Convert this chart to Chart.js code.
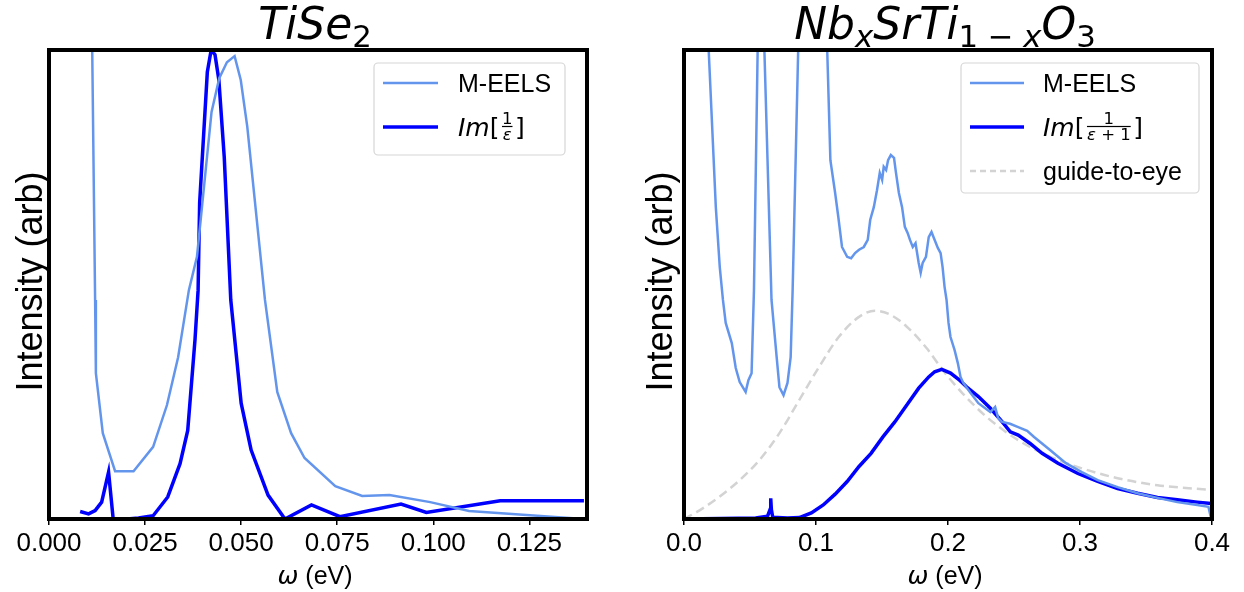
<!DOCTYPE html>
<html>
<head>
<meta charset="utf-8">
<script src="https://cdn.jsdelivr.net/npm/chart.js@4/dist/chart.umd.min.js"></script>
<style>
  body { margin: 0; background: #fff; }
  .panel { position: absolute; top: 0; width: 622px; height: 592px; }
</style>
</head>
<body>
<div class="panel" style="left:0"><canvas id="tise2"></canvas></div>
<div class="panel" style="left:622px"><canvas id="nbsto"></canvas></div>
<script>
// TiSe2: M-EELS spectrum and loss function Im[1/eps]
const tiseEelsX = [0.0104, 0.0120, 0.0122, 0.0140, 0.0172, 0.0220, 0.0271, 0.0307, 0.0336, 0.0364, 0.0385, 0.0423, 0.0443, 0.0463, 0.0483, 0.0499, 0.0516, 0.0562, 0.0594, 0.0630, 0.0665, 0.0745, 0.0815, 0.0886, 0.0992, 0.1093, 0.1392];
const tiseEelsY = [1.60, 0.467, 0.311, 0.183, 0.102, 0.102, 0.154, 0.243, 0.345, 0.488, 0.559, 0.868, 0.940, 0.974, 0.987, 0.936, 0.836, 0.467, 0.271, 0.183, 0.130, 0.070, 0.049, 0.051, 0.036, 0.017, 0.0];
const tiseLossX = [0.0081, 0.0103, 0.0120, 0.0137, 0.0155, 0.0167, 0.0203, 0.0233, 0.0271, 0.0309, 0.0341, 0.0361, 0.0380, 0.0388, 0.0392, 0.0412, 0.0422, 0.0432, 0.0442, 0.0456, 0.0473, 0.0500, 0.0526, 0.0570, 0.0614, 0.0683, 0.0757, 0.0916, 0.0982, 0.1174, 0.1392];
const tiseLossY = [0.016, 0.011, 0.018, 0.036, 0.100, 0.0, 0.0, 0.002, 0.007, 0.047, 0.118, 0.189, 0.383, 0.488, 0.674, 0.953, 1.0, 0.99, 0.936, 0.772, 0.467, 0.247, 0.147, 0.051, 0.0, 0.030, 0.005, 0.032, 0.014, 0.039, 0.039];
const tiseTicks = [0, 0.025, 0.05, 0.075, 0.1, 0.125];

// Nb-doped SrTiO3: M-EELS, Im[1/(eps+1)] and a guide curve
const nbEelsX = [0.0170, 0.0187, 0.0241, 0.0271, 0.0295, 0.0316, 0.0362, 0.0392, 0.0422, 0.0467, 0.0488, 0.0512, 0.0530, 0.0558, 0.0585, 0.0609, 0.0663, 0.0702, 0.0723, 0.0754, 0.0784, 0.0808, 0.0823, 0.0865, 0.0970, 0.1085, 0.1109, 0.1145, 0.1169, 0.1197, 0.1236, 0.1266, 0.1296, 0.1326, 0.1362, 0.1392, 0.1411, 0.1438, 0.1462, 0.1483, 0.1501, 0.1513, 0.1531, 0.1546, 0.1567, 0.1591, 0.1606, 0.1628, 0.1652, 0.1673, 0.1694, 0.1712, 0.1733, 0.1754, 0.1778, 0.1793, 0.1808, 0.1833, 0.1854, 0.1875, 0.1899, 0.1923, 0.1944, 0.1959, 0.1974, 0.1989, 0.2004, 0.2019, 0.2050, 0.2074, 0.2095, 0.2116, 0.2170, 0.2230, 0.2321, 0.2357, 0.2380, 0.2411, 0.2470, 0.2532, 0.2600, 0.2652, 0.2773, 0.2893, 0.3014, 0.3134, 0.3285, 0.3436, 0.3587, 0.3737, 0.3888, 0.3973, 0.3994];
const nbEelsY = [1.30, 1.00, 0.665, 0.537, 0.467, 0.418, 0.375, 0.322, 0.292, 0.271, 0.296, 0.311, 0.488, 1.00, 1.50, 1.00, 0.467, 0.345, 0.281, 0.264, 0.290, 0.345, 0.488, 1.00, 1.60, 1.00, 0.765, 0.695, 0.644, 0.580, 0.559, 0.556, 0.567, 0.574, 0.580, 0.595, 0.638, 0.665, 0.701, 0.738, 0.723, 0.751, 0.744, 0.765, 0.776, 0.770, 0.738, 0.695, 0.665, 0.623, 0.610, 0.595, 0.580, 0.588, 0.546, 0.525, 0.546, 0.559, 0.601, 0.612, 0.595, 0.578, 0.567, 0.537, 0.495, 0.467, 0.418, 0.388, 0.360, 0.333, 0.303, 0.290, 0.269, 0.247, 0.228, 0.239, 0.215, 0.207, 0.203, 0.196, 0.188, 0.175, 0.147, 0.119, 0.100, 0.083, 0.068, 0.055, 0.045, 0.036, 0.030, 0.026, 0.0];
const nbLossX = [0.0, 0.0543, 0.0633, 0.0652, 0.0657, 0.0662, 0.0672, 0.0784, 0.0874, 0.0965, 0.1055, 0.1145, 0.1236, 0.1326, 0.1417, 0.1507, 0.1597, 0.1688, 0.1778, 0.1854, 0.1899, 0.1953, 0.2019, 0.2080, 0.2140, 0.2230, 0.2321, 0.2411, 0.2472, 0.2532, 0.2622, 0.2713, 0.2833, 0.2984, 0.3134, 0.3285, 0.3436, 0.3587, 0.3737, 0.3888, 0.3994];
const nbLossY = [0.0, 0.002, 0.006, 0.020, 0.044, 0.020, 0.004, 0.002, 0.003, 0.013, 0.030, 0.053, 0.080, 0.112, 0.140, 0.175, 0.207, 0.243, 0.279, 0.303, 0.314, 0.319, 0.311, 0.298, 0.282, 0.261, 0.236, 0.207, 0.186, 0.179, 0.161, 0.140, 0.119, 0.097, 0.080, 0.065, 0.055, 0.046, 0.041, 0.036, 0.033];
const nbGuideX = [0.0, 0.0121, 0.0271, 0.0422, 0.0573, 0.0723, 0.0874, 0.1025, 0.1175, 0.1326, 0.1447, 0.1567, 0.1688, 0.1839, 0.1959, 0.2110, 0.2291, 0.2532, 0.2773, 0.3014, 0.3285, 0.3587, 0.4];
const nbGuideY = [0.0, 0.019, 0.048, 0.083, 0.126, 0.183, 0.254, 0.325, 0.389, 0.431, 0.444, 0.435, 0.410, 0.364, 0.318, 0.268, 0.218, 0.168, 0.133, 0.108, 0.087, 0.072, 0.062];
const nbTicks = [0, 0.1, 0.2, 0.3, 0.4];

const SANS = "'Liberation Sans', Arial, sans-serif";
const MATH = "'DejaVu Sans', sans-serif";
const EELS_COLOR = '#6495ed';
const LOSS_COLOR = '#0000ff';
const GUIDE_COLOR = '#d3d3d3';

function zip(xs, ys) {
  return xs.map((x, i) => ({ x: x, y: ys[i] }));
}

// --- small rich-text helper: italics, subscripts and stacked fractions ---
function runFont(r, size) {
  const s = r.sub ? size * 0.7 : size;
  return (r.it ? 'italic ' : '') + s + 'px ' + (r.math ? MATH : SANS);
}
function runWidth(ctx, r, size) {
  if (r.num) {
    const fs = size * 0.66;
    return Math.max(runsWidth(ctx, r.num, fs), runsWidth(ctx, r.den, fs)) + size * 0.2;
  }
  ctx.font = runFont(r, size);
  return ctx.measureText(r.t).width;
}
function runsWidth(ctx, runs, size) {
  return runs.reduce((w, r) => w + runWidth(ctx, r, size), 0);
}
function drawRuns(ctx, runs, x, y, size, align) {
  let cx = align === 'center' ? x - runsWidth(ctx, runs, size) / 2 : x;
  for (const r of runs) {
    const w = runWidth(ctx, r, size);
    ctx.textAlign = 'left';
    ctx.textBaseline = 'alphabetic';
    if (r.num) {
      const fs = size * 0.66;
      const mid = y - size * 0.38;
      drawRuns(ctx, r.num, cx + w / 2, mid - fs * 0.15, fs, 'center');
      drawRuns(ctx, r.den, cx + w / 2, mid + fs * 0.82, fs, 'center');
      ctx.fillRect(cx + size * 0.1, mid - 0.6, w - size * 0.2, 1.2);
    } else {
      ctx.font = runFont(r, size);
      ctx.fillText(r.t, cx, r.sub ? y + size * 0.18 : y);
    }
    cx += w;
  }
}

// frame, titles and legend drawn on top of the chart
const decor = {
  id: 'decor',
  afterDatasetsDraw(chart, args, opts) {
    const ctx = chart.ctx;
    const a = chart.chartArea;
    ctx.save();

    // legend
    const b = opts.legendBox;
    ctx.beginPath();
    ctx.roundRect(b.x, b.y, b.w, b.h, 4);
    ctx.fillStyle = 'rgba(255,255,255,0.8)';
    ctx.fill();
    ctx.strokeStyle = '#d6d6d6';
    ctx.lineWidth = 1.2;
    ctx.stroke();
    opts.entries.forEach((e, i) => {
      const ly = b.y + 20 + i * b.step;
      ctx.beginPath();
      ctx.strokeStyle = e.color;
      ctx.lineWidth = e.width;
      ctx.setLineDash(e.dash || []);
      ctx.moveTo(b.x + b.lineX0, ly);
      ctx.lineTo(b.x + b.lineX1, ly);
      ctx.stroke();
      ctx.setLineDash([]);
      ctx.fillStyle = '#000';
      drawRuns(ctx, e.runs, b.x + b.textX, ly + 9, 25, 'left');
    });

    // axes frame
    ctx.strokeStyle = '#000';
    ctx.lineWidth = 4;
    ctx.strokeRect(a.left, a.top, a.right - a.left, a.bottom - a.top);

    // title
    ctx.fillStyle = '#000';
    drawRuns(ctx, opts.title, (a.left + a.right) / 2 - 3, 39, 44, 'center');

    // x title
    drawRuns(ctx, [{ t: 'ω', it: true, math: true }, { t: ' (eV)' }], (a.left + a.right) / 2 - 3, 584, 25, 'center');

    // y title
    ctx.translate(opts.yTitleX, (a.top + a.bottom) / 2 - 3);
    ctx.rotate(-Math.PI / 2);
    ctx.font = '36px ' + SANS;
    ctx.textAlign = 'center';
    ctx.textBaseline = 'alphabetic';
    ctx.fillText('Intensity (arb)', 0, 0);
    ctx.restore();
  }
};

function lineSet(label, data, color, width, dash) {
  return {
    label: label,
    data: data,
    borderColor: color,
    borderWidth: width,
    borderDash: dash || [],
    pointRadius: 0,
    tension: 0,
    fill: false
  };
}

function makeChart(id, cfg) {
  return new Chart(document.getElementById(id), {
    type: 'line',
    data: { datasets: cfg.datasets },
    plugins: [decor],
    options: {
      responsive: true,
      maintainAspectRatio: false,
      animation: false,
      layout: { padding: cfg.padding },
      plugins: {
        legend: { display: false },
        tooltip: { enabled: false },
        decor: cfg.decor
      },
      scales: {
        x: {
          type: 'linear',
          min: cfg.xMin,
          max: cfg.xMax,
          border: { display: false },
          grid: { drawOnChartArea: false, drawTicks: true, tickLength: 6, color: '#000', lineWidth: 1.5 },
          afterBuildTicks: (scale) => { scale.ticks = cfg.ticks.map(v => ({ value: v })); },
          afterFit: (scale) => { scale.height = 73; },
          ticks: {
            color: '#000',
            padding: 3,
            maxRotation: 0,
            font: { family: SANS, size: 26 },
            callback: (v) => v.toFixed(cfg.digits)
          }
        },
        y: { display: false, min: 0, max: 1 }
      }
    }
  });
}

makeChart('tise2', {
  xMin: 0, xMax: 0.14, ticks: tiseTicks, digits: 3,
  padding: { top: 50, left: 49, right: 35, bottom: 0 },
  datasets: [
    lineSet('M-EELS', zip(tiseEelsX, tiseEelsY), EELS_COLOR, 2.5),
    lineSet('Im[1/ε]', zip(tiseLossX, tiseLossY), LOSS_COLOR, 3.5)
  ],
  decor: {
    yTitleX: 42,
    title: [{ t: 'TiSe', it: true, math: true }, { t: '2', sub: true, math: true }],
    legendBox: { x: 374, y: 63, w: 191, h: 92, step: 44, lineX0: 9, lineX1: 64, textX: 84 },
    entries: [
      { color: EELS_COLOR, width: 2.5, runs: [{ t: 'M-EELS' }] },
      { color: LOSS_COLOR, width: 3.5, runs: [{ t: 'Im', it: true, math: true }, { t: '[', math: true }, { num: [{ t: '1', math: true }], den: [{ t: 'ε', it: true, math: true }] }, { t: ']', math: true }] }
    ]
  }
});

makeChart('nbsto', {
  xMin: 0, xMax: 0.4, ticks: nbTicks, digits: 1,
  padding: { top: 50, left: 62, right: 32, bottom: 0 },
  datasets: [
    lineSet('M-EELS', zip(nbEelsX, nbEelsY), EELS_COLOR, 2.5),
    lineSet('Im[1/(ε+1)]', zip(nbLossX, nbLossY), LOSS_COLOR, 3.5),
    Object.assign(lineSet('guide-to-eye', zip(nbGuideX, nbGuideY), GUIDE_COLOR, 2.5, [9, 5]), { tension: 0.4, cubicInterpolationMode: 'monotone' })
  ],
  decor: {
    yTitleX: 50,
    title: [
      { t: 'Nb', it: true, math: true }, { t: 'x', it: true, sub: true, math: true },
      { t: 'SrTi', it: true, math: true }, { t: '1 − ', sub: true, math: true }, { t: 'x', it: true, sub: true, math: true },
      { t: 'O', it: true, math: true }, { t: '3', sub: true, math: true }
    ],
    legendBox: { x: 339, y: 63, w: 238, h: 130, step: 44, lineX0: 9, lineX1: 63, textX: 82 },
    entries: [
      { color: EELS_COLOR, width: 2.5, runs: [{ t: 'M-EELS' }] },
      { color: LOSS_COLOR, width: 3.5, runs: [{ t: 'Im', it: true, math: true }, { t: '[', math: true }, { num: [{ t: '1', math: true }], den: [{ t: 'ε', it: true, math: true }, { t: ' + 1', math: true }] }, { t: ']', math: true }] },
      { color: GUIDE_COLOR, width: 2.5, dash: [6, 4], runs: [{ t: 'guide-to-eye' }] }
    ]
  }
});
</script>
</body>
</html>
